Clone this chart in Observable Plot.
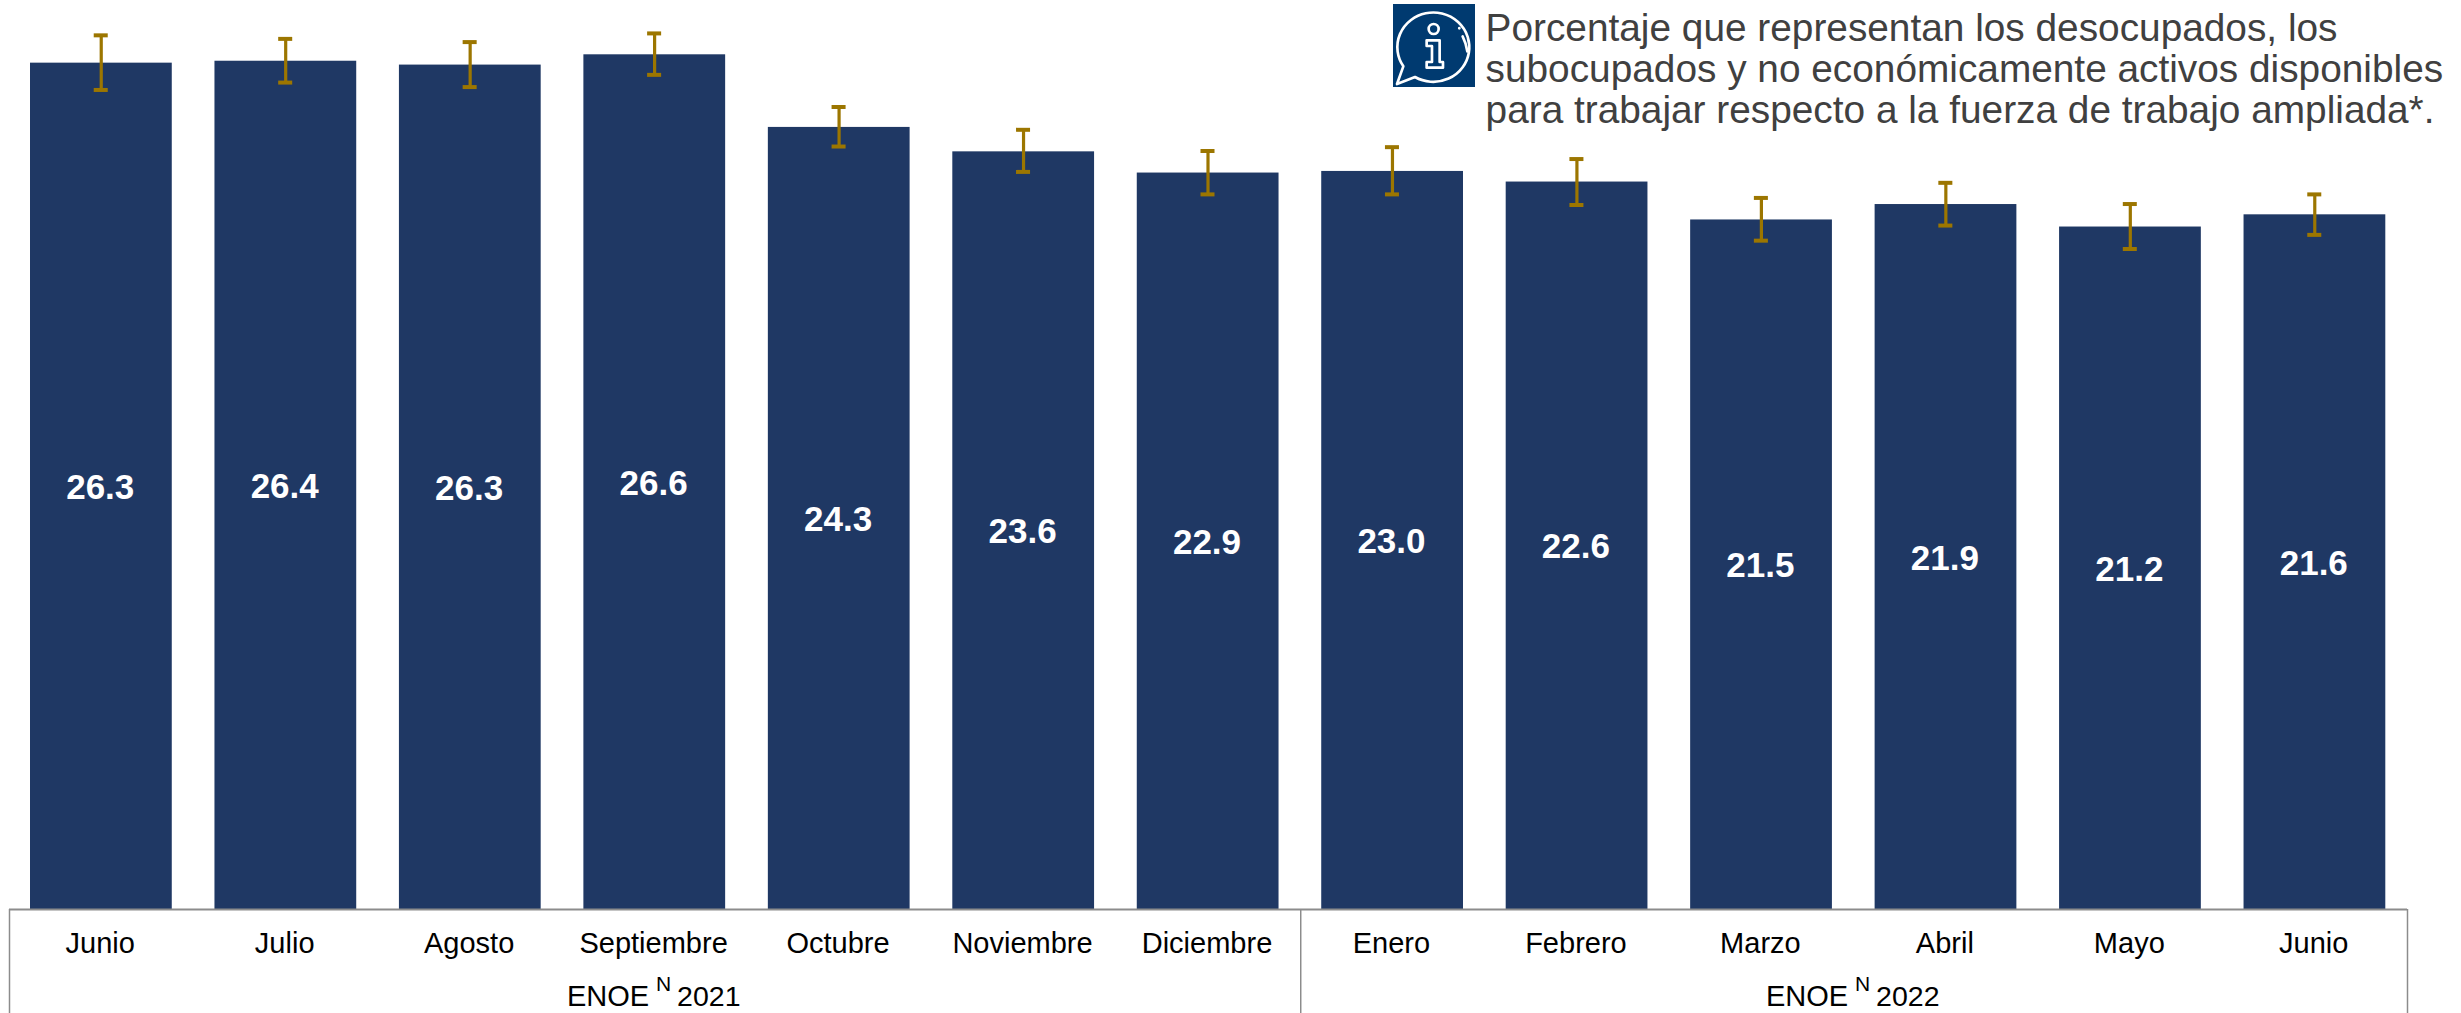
<!DOCTYPE html>
<html lang="es">
<head>
<meta charset="utf-8">
<script src="https://cdn.jsdelivr.net/npm/d3@7"></script>
<script src="https://cdn.jsdelivr.net/npm/@observablehq/plot@0.6"></script>
<style>
html,body{margin:0;padding:0;background:#fff;overflow:hidden}
#wrap{position:relative;width:2461px;height:1013px}
#icon{position:absolute;left:1392.7px;top:4.3px;width:82.3px;height:83px}
svg.plot{display:block}
</style>
</head>
<body>
<div id="wrap">
<svg id="icon" viewBox="38 13 247 249" preserveAspectRatio="none" xmlns="http://www.w3.org/2000/svg">
<rect x="38" y="13" width="247" height="249" fill="#003a70"/>
<g fill="none" stroke="#fff" stroke-width="8" stroke-linejoin="round" stroke-linecap="round">
<path d="M104 232 L50 253 L69 200 A108 104 0 1 1 104 232 Z"/>
<circle cx="160" cy="88" r="15"/>
<path d="M139 122 H178 V187 H188 V204 H139 V187 H155 V139 H139 Z"/>
<path d="M247 110 Q258 132 261 155"/>
<path d="M237 85 v1"/>
</g>
</svg>
</div>
<script>
const months = ["Junio","Julio","Agosto","Septiembre","Octubre","Noviembre","Diciembre","Enero","Febrero","Marzo","Abril","Mayo","Junio"];
const values = [26.34,26.40,26.28,26.60,24.34,23.58,22.92,22.97,22.64,21.46,21.94,21.24,21.62];
const upper  = [27.19,27.08,26.98,27.25,24.96,24.25,23.59,23.71,23.34,22.13,22.60,21.94,22.24];
const lower  = [25.49,25.72,25.58,25.96,23.73,22.94,22.24,22.24,21.91,20.80,21.27,20.54,20.98];
const groupStarts = [0,7,13];
const groups = [{label:"2021",mid:3.5},{label:"2022",mid:10}];
const note = "Porcentaje que representan los desocupados, los\nsubocupados y no económicamente activos disponibles\npara trabajar respecto a la fuerza de trabajo ampliada*.";

const rows = months.map((m,i)=>({i,m,v:values[i],hi:upper[i],lo:lower[i]}));
const font = "'Liberation Sans', Arial, sans-serif";
const BAR = "#1f3864", GOLD = "#9c7600", FRAME = "#8c8c8c";
const bottom = -3.24, groupY = -2.71, capHalf = 0.038;

const plot = Plot.plot({
  width: 2461, height: 1013,
  marginLeft: 0, marginRight: 0, marginTop: 0, marginBottom: 104,
  x: {domain:[0,13], range:[9,2407], axis:null},
  y: {domain:[0,28.29], range:[909,0], axis:null},
  style: {fontFamily: font, background:"#fff"},
  marks: [
    Plot.rect(rows,{x1:"i",x2:d=>d.i+1,y1:0,y2:"v",fill:BAR,insetLeft:21.0,insetRight:21.7}),
    Plot.ruleY([0],{x1:0,x2:13,stroke:FRAME,strokeWidth:2}),
    Plot.ruleX(groupStarts,{y1:0,y2:bottom,stroke:FRAME,strokeWidth:1.5}),
    Plot.ruleX(rows,{x:d=>d.i+.5,y1:"lo",y2:"hi",stroke:GOLD,strokeWidth:3.2,dx:-0.5}),
    Plot.ruleY(rows,{y:"hi",x1:d=>d.i+.5-capHalf,x2:d=>d.i+.5+capHalf,stroke:GOLD,strokeWidth:4,dx:-0.5,dy:-0.5}),
    Plot.ruleY(rows,{y:"lo",x1:d=>d.i+.5-capHalf,x2:d=>d.i+.5+capHalf,stroke:GOLD,strokeWidth:4,dx:-0.5,dy:-0.5}),
    Plot.text(rows,{x:d=>d.i+.5,y:d=>d.v/2,text:d=>d.v.toFixed(1),fill:"#fff",fontSize:35,fontWeight:"bold",dx:-1.5,dy:1.5}),
    Plot.axisX({ticks:months.map((_,i)=>i+.5),tickFormat:d=>months[d-.5],tickSize:0,tickPadding:23,fontSize:29,fill:"#000",label:null,anchor:"bottom",dx:-1.5}),
    Plot.text(groups,{x:"mid",y:groupY,text:()=>"ENOE",textAnchor:"end",dx:-6,fontSize:29,fill:"#000"}),
    Plot.text(groups,{x:"mid",y:groupY,text:()=>"N",textAnchor:"start",dx:1,dy:-12,fontSize:21,fill:"#000"}),
    Plot.text(groups,{x:"mid",y:groupY,text:"label",textAnchor:"start",dx:22,fontSize:28.5,fill:"#000"}),
    Plot.text([note],{x:8.002,y:28.29,text:d=>d,textAnchor:"start",lineAnchor:"top",lineHeight:1.057,fontSize:38.8,fill:"#404040",dy:11})
  ]
});
document.getElementById("wrap").prepend(plot);
</script>
</body>
</html>
